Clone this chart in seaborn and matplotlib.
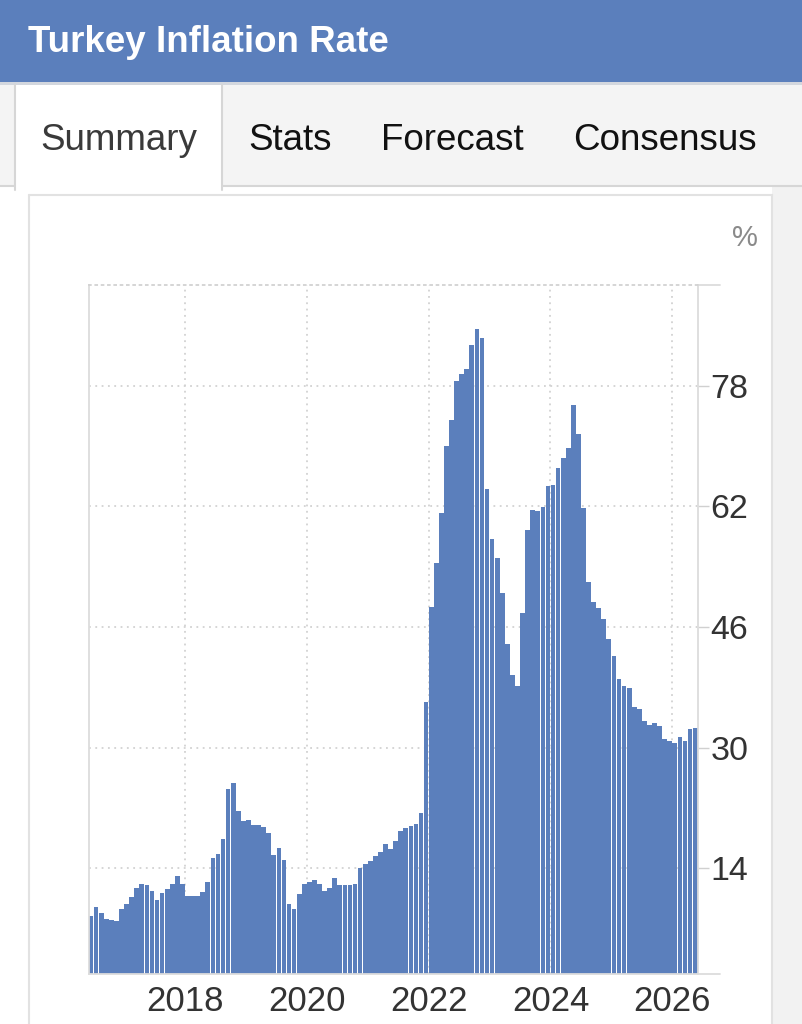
import numpy as np
import pandas as pd
import matplotlib.pyplot as plt
import seaborn as sns
from matplotlib.patches import Rectangle

sns.set_style('white')
plt.rcParams['font.family'] = ['Liberation Sans', 'DejaVu Sans']

# Turkey CPI, year-on-year %, monthly from June 2016
start_month = '2016-06'
infl_2016 = [7.64, 8.79, 8.05, 7.28, 7.16, 7.00, 8.53]
infl_2017 = [9.22, 10.13, 11.29, 11.87, 11.72, 10.90, 9.79, 10.68, 11.20, 11.90, 12.98, 11.92]
infl_2018 = [10.35, 10.26, 10.23, 10.85, 12.15, 15.39, 15.85, 17.90, 24.52, 25.24, 21.62, 20.30]
infl_2019 = [20.35, 19.67, 19.71, 19.50, 18.71, 15.72, 16.65, 15.01, 9.26, 8.55, 10.56, 11.84]
infl_2020 = [12.15, 12.37, 11.86, 10.94, 11.39, 12.62, 11.76, 11.77, 11.75, 11.89, 14.03, 14.60]
infl_2021 = [14.97, 15.61, 16.19, 17.14, 16.59, 17.53, 18.95, 19.25, 19.58, 19.89, 21.31, 36.08]
infl_2022 = [48.69, 54.44, 61.14, 69.97, 73.50, 78.62, 79.60, 80.21, 83.45, 85.51, 84.39, 64.27]
infl_2023 = [57.68, 55.18, 50.51, 43.68, 39.59, 38.21, 47.83, 58.94, 61.53, 61.36, 61.98, 64.77]
infl_2024 = [64.86, 67.07, 68.50, 69.80, 75.45, 71.60, 61.78, 51.97, 49.38, 48.58, 47.09, 44.38]
infl_2025 = [42.12, 39.05, 38.10, 37.86, 35.41, 35.05, 33.52, 32.95, 33.29, 32.87, 31.07, 30.89]
infl_2026 = [30.65, 31.4, 30.8, 32.4, 32.6]

y_ticks = [14, 30, 46, 62, 78]
x_tick_years = [2018, 2020, 2022, 2024, 2026]
tabs = ['Summary', 'Stats', 'Forecast', 'Consensus']

values = (infl_2016 + infl_2017 + infl_2018 + infl_2019 + infl_2020 + infl_2021
          + infl_2022 + infl_2023 + infl_2024 + infl_2025 + infl_2026)
months = pd.date_range(start_month, periods=len(values), freq='MS')
df = pd.DataFrame({'month': months.strftime('%Y-%m'), 'rate': values})

bar_blue = '#5b7fbc'
line_grey = '#dcdcdc'

fig = plt.figure(figsize=(8.02, 10.24), dpi=100)

# page decoration in pixel coordinates
bg = fig.add_axes([0, 0, 1, 1], zorder=0)
bg.set_xlim(0, 802)
bg.set_ylim(1024, 0)
bg.axis('off')
bg.add_patch(Rectangle((0, 0), 802, 82, color=bar_blue, lw=0))
bg.add_patch(Rectangle((0, 82), 802, 3, color='#d3d7de', lw=0))
bg.add_patch(Rectangle((0, 85), 802, 100, color='#f4f4f4', lw=0))
bg.plot([0, 802], [185.5, 185.5], color='#d6d6d6', lw=1.5)
bg.add_patch(Rectangle((15, 85), 207, 106, color='white', lw=0, zorder=3))
bg.plot([15, 15], [85, 190], color='#d6d6d6', lw=1.5, zorder=4)
bg.plot([222, 222], [85, 190], color='#d6d6d6', lw=1.5, zorder=4)
bg.add_patch(Rectangle((772, 187), 30, 840, color='#f2f2f2', lw=0))
bg.plot([29, 29], [195, 1024], color='#e2e2e2', lw=1.5)
bg.plot([29, 772], [195, 195], color='#e2e2e2', lw=1.5)
bg.plot([772, 772], [195, 1024], color='#e2e2e2', lw=1.5)

bg.text(28, 52, 'Turkey Inflation Rate', color='white', fontsize=26.5,
        fontweight='bold', va='baseline', ha='left')
tab_x = [40, 248, 381, 573]
for name, x in zip(tabs, tab_x):
    bg.text(x, 150, name, fontsize=26.5, va='baseline', ha='left',
            color='#3a3a3a' if name == 'Summary' else '#111111', zorder=5)
bg.text(745, 238, '%', fontsize=21, color='#8a8a8a', ha='center', va='center')

# chart
ax = fig.add_axes([88.5 / 802, 1 - 973.5 / 1024, (697.7 - 88.5) / 802, (973.5 - 285) / 1024],
                  zorder=2)
sns.barplot(data=df, x='month', y='rate', color=bar_blue, saturation=1,
            width=0.93, linewidth=0, ax=ax)
ax.set_axisbelow(True)
ax.set_xlim(-0.5, len(values) - 0.5)
ax.set_ylim(0, 91.4)
ax.set_xlabel('')
ax.set_ylabel('')

xpos = [int(np.where((months.year == y) & (months.month == 1))[0][0]) - 0.5 for y in x_tick_years]
ax.set_xticks(xpos)
ax.set_xticklabels([str(y) for y in x_tick_years])
ax.yaxis.tick_right()
ax.set_yticks(y_ticks)
ax.tick_params(axis='x', length=0, pad=8, labelsize=25, labelcolor='#333333')
ax.tick_params(axis='y', length=8, width=1, color='#d0d0d0', pad=1,
               labelsize=24.5, labelcolor='#333333')

ax.grid(True, linestyle=(0, (1, 2.5)), color='#d2d2d2', lw=1.3)
for side in ['left', 'right', 'bottom']:
    ax.spines[side].set_color(line_grey)
    ax.spines[side].set_linewidth(1.3)
ax.spines['top'].set_color('#d2d2d2')
ax.spines['top'].set_linestyle((0, (1, 2.5)))
ax.spines['top'].set_linewidth(1.3)
ax.plot([1, 1.037], [1, 1], transform=ax.transAxes, clip_on=False, color=line_grey, lw=1.3)
ax.plot([1, 1.037], [0, 0], transform=ax.transAxes, clip_on=False, color=line_grey, lw=1.3)

fig.savefig('out.png', dpi=100)
